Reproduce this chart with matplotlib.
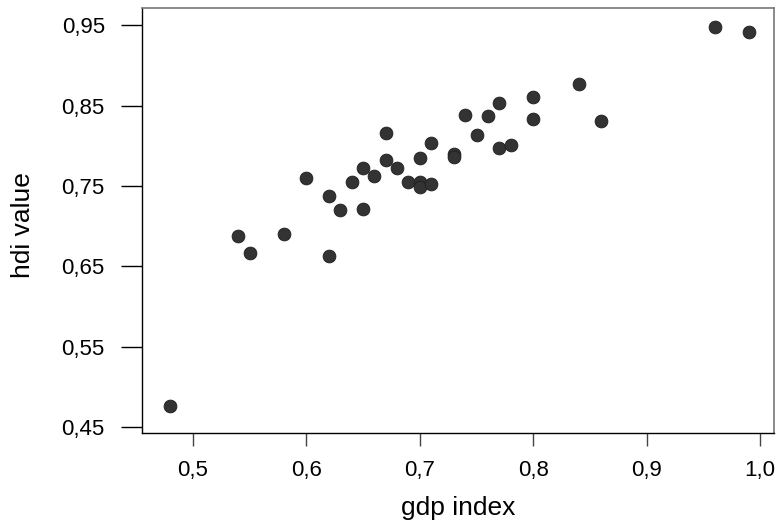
import numpy as np
import matplotlib
matplotlib.use('Agg')
import matplotlib.pyplot as plt
from matplotlib.ticker import FuncFormatter

# gdp index vs hdi value
gdp_index = [0.48, 0.54, 0.55, 0.58, 0.60, 0.62, 0.62, 0.63, 0.64, 0.65,
             0.65, 0.66, 0.67, 0.67, 0.68, 0.69, 0.70, 0.70, 0.70, 0.71,
             0.71, 0.73, 0.73, 0.74, 0.75, 0.76, 0.77, 0.77, 0.78, 0.80,
             0.80, 0.84, 0.86, 0.96, 0.99]
hdi_value = [0.476, 0.688, 0.667, 0.690, 0.760, 0.737, 0.663, 0.720, 0.755, 0.772,
             0.721, 0.762, 0.816, 0.782, 0.772, 0.755, 0.785, 0.755, 0.749, 0.804,
             0.753, 0.790, 0.786, 0.838, 0.813, 0.837, 0.853, 0.798, 0.801, 0.861,
             0.833, 0.877, 0.831, 0.948, 0.942]

x_ticks = [0.5, 0.6, 0.7, 0.8, 0.9, 1.0]
y_ticks = [0.45, 0.55, 0.65, 0.75, 0.85, 0.95]

plt.rcParams['font.family'] = ['Liberation Sans', 'DejaVu Sans']

fig = plt.figure(figsize=(7.78, 5.25), dpi=100)
ax = fig.add_axes([142.3 / 778, 1 - 433.3 / 525, (774.3 - 142.3) / 778, (433.3 - 8.3) / 525])

ax.scatter(gdp_index, hdi_value, s=85, color='#333333', edgecolors='#1e1e1e',
           linewidths=0.6, zorder=3)

ax.set_xlim(0.4553, 1.0126)
ax.set_ylim(0.442, 0.9714)
ax.set_xticks(x_ticks)
ax.set_yticks(y_ticks)

comma1 = FuncFormatter(lambda v, p: f'{v:.1f}'.replace('.', ','))
comma2 = FuncFormatter(lambda v, p: f'{v:.2f}'.replace('.', ','))
ax.xaxis.set_major_formatter(comma1)
ax.yaxis.set_major_formatter(comma2)

ax.tick_params(axis='both', direction='out', width=1.0, labelsize=16,
               labelcolor='black')
ax.tick_params(axis='x', length=9.5, pad=10, color='#444444')
ax.tick_params(axis='y', length=15, pad=12, color='black')

for side in ['left', 'bottom']:
    ax.spines[side].set_color('black')
    ax.spines[side].set_linewidth(1.0)
for side in ['top', 'right']:
    ax.spines[side].set_color('#777777')
    ax.spines[side].set_linewidth(1.2)

ax.set_xlabel('gdp index', fontsize=19)
ax.set_ylabel('hdi value', fontsize=19)
ax.xaxis.set_label_coords(0.5, -0.176)
ax.xaxis.label.set_va('center')
ax.yaxis.set_label_coords(-0.189, 0.49)
ax.yaxis.label.set_va('center')

plt.savefig('out.png', dpi=100)
